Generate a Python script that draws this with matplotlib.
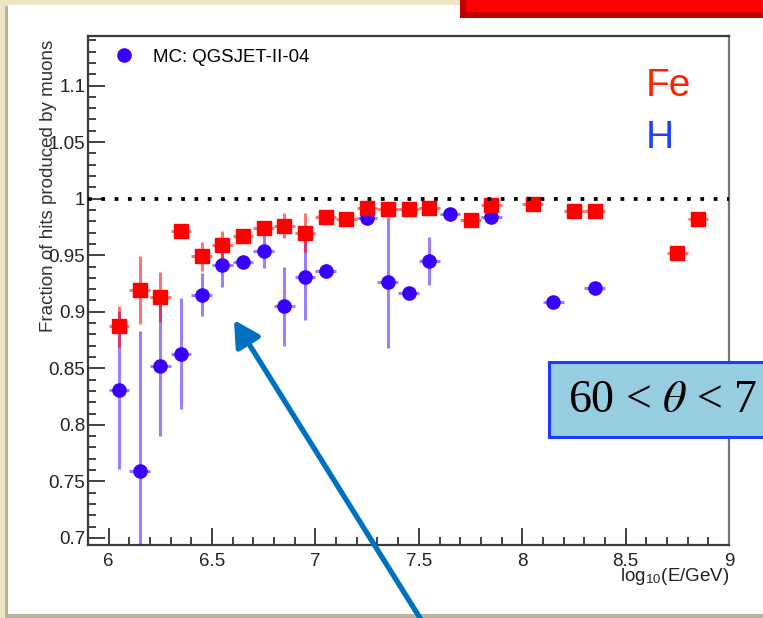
import matplotlib
matplotlib.use("Agg")
import matplotlib.pyplot as plt
import numpy as np
from matplotlib.lines import Line2D
from matplotlib.patches import Rectangle, FancyArrowPatch
from matplotlib.ticker import MultipleLocator, FuncFormatter

plt.rcParams['font.family'] = ['Liberation Sans', 'DejaVu Sans']
plt.rcParams['mathtext.fontset'] = 'stix'

# Bin centres, log10(E/GeV)
log_e = [6.05, 6.15, 6.25, 6.35, 6.45, 6.55, 6.65, 6.75, 6.85, 6.95,
         7.05, 7.15, 7.25, 7.35, 7.45, 7.55, 7.65, 7.75, 7.85, 7.95,
         8.05, 8.15, 8.25, 8.35, 8.45, 8.55, 8.65, 8.75, 8.85]
nan = np.nan

# Fe (red squares)
fe_frac = [0.887, 0.919, 0.913, 0.971, 0.949, 0.959, 0.967, 0.974, 0.976, 0.970,
           0.984, 0.982, 0.992, 0.991, 0.991, 0.992, nan, 0.981, 0.994, nan,
           0.995, nan, 0.989, 0.989, nan, nan, nan, 0.952, 0.982]
fe_err = [0.018, 0.030, 0.022, 0.003, 0.013, 0.012, 0.004, 0.006, 0.011, 0.017,
          0.003, 0.003, 0.004, 0.003, 0.003, 0.003, nan, 0.003, 0.004, nan,
          0.003, nan, 0.003, 0.003, nan, nan, nan, 0.003, 0.003]

# H (blue circles)
h_frac = [0.831, 0.759, 0.852, 0.863, 0.915, 0.941, 0.944, 0.954, 0.905, 0.931,
          0.936, nan, 0.983, 0.926, 0.917, 0.945, 0.986, nan, 0.984, nan,
          nan, 0.909, nan, 0.921, nan, nan, nan, nan, nan]
h_err = [0.070, 0.124, 0.062, 0.049, 0.019, 0.019, 0.004, 0.015, 0.035, 0.038,
         0.006, nan, 0.004, 0.058, 0.004, 0.021, 0.003, nan, 0.003, nan,
         nan, 0.003, nan, 0.003, nan, nan, nan, nan, nan]

bin_half = 0.05
red = '#ff0000'
blue = '#3a00ff'

W, H = 763, 618
fig = plt.figure(figsize=(W / 100, H / 100), dpi=100, facecolor='#efe4c4')


def px(x, y):
    # pixel position (origin top-left) -> figure fraction
    return x / W, 1 - y / H


# Slide panel with a light shadow
fig.add_artist(Rectangle(px(5, 618), 780 / W, 612 / H, transform=fig.transFigure,
                         facecolor='#b9b3a0', edgecolor='none', zorder=-3))
fig.add_artist(Rectangle(px(8, 614), 780 / W, 609 / H, transform=fig.transFigure,
                         facecolor='white', edgecolor='none', zorder=-2))

ax = fig.add_axes([88 / W, (H - 545) / H, 641 / W, 509 / H])

ax.errorbar(log_e, h_frac, yerr=h_err, xerr=bin_half, fmt='o', color=blue,
            ms=9.5, ecolor=(0.23, 0.0, 1.0, 0.5), elinewidth=2.2, capsize=0, zorder=3)
ax.errorbar(log_e, fe_frac, yerr=fe_err, xerr=bin_half, fmt='s', color=red,
            ms=9.5, ecolor=(1.0, 0.0, 0.0, 0.55), elinewidth=2.2, capsize=0, zorder=4)

ax.axhline(1.0, color='black', lw=2.7, ls=(0, (1, 2.55)), dash_capstyle='butt', zorder=5)

ax.set_xlim(5.9, 9.0)
ax.set_ylim(0.6938, 1.1438)

ax.xaxis.set_major_locator(MultipleLocator(0.5))
ax.xaxis.set_minor_locator(MultipleLocator(0.1))
ax.yaxis.set_major_locator(MultipleLocator(0.05))
ax.yaxis.set_minor_locator(MultipleLocator(0.01))
fmt = FuncFormatter(lambda v, p: '%g' % round(v, 3))
ax.xaxis.set_major_formatter(fmt)
ax.yaxis.set_major_formatter(fmt)

ax.tick_params(which='both', direction='in', top=False, right=False,
               colors='#333333', labelcolor='#222222', labelsize=13.5, width=1.3)
ax.tick_params(which='major', length=12)
ax.tick_params(which='minor', length=6)
ax.tick_params(axis='x', pad=6)
ax.tick_params(axis='y', pad=2)
for s in ax.spines.values():
    s.set_linewidth(1.6)
    s.set_color('#3a3a3a')
ax.spines['right'].set_color('#777777')

ax.set_ylabel('Fraction of hits produced by muons', fontsize=13.5, color='#333333', loc='top')
ax.yaxis.set_label_coords(-0.048, 0.992)
fig.text(729 / W, 1 - 566 / H, r'log$_\mathregular{10}$(E/GeV)', ha='right', va='top',
         fontsize=13.5, color='#222222')

ax.legend(handles=[Line2D([], [], marker='o', ls='none', color=blue, ms=9.5)],
          labels=['MC: QGSJET-II-04'], loc='upper left', frameon=False,
          fontsize=13.4, handlelength=1.0, handletextpad=1.06, borderpad=0,
          borderaxespad=0, bbox_to_anchor=(0.0417, 0.9745))

ax.text(0.87, 0.882, 'Fe', transform=ax.transAxes, color='#ff2200', fontsize=28,
        ha='left', va='baseline')
ax.text(0.87, 0.780, 'H', transform=ax.transAxes, color='#2040ff', fontsize=28,
        ha='left', va='baseline')

# Red title box of the slide (cut off)
fig.add_artist(Rectangle(px(463, 15), 320 / W, 30 / H, transform=fig.transFigure,
                         facecolor='#ff0000', edgecolor='#c00000', lw=4.3, zorder=6))

# Angle box (cut off at the right edge)
fig.add_artist(Rectangle(px(549, 437), 250 / W, 75 / H, transform=fig.transFigure,
                         facecolor='#96cde0', edgecolor='#1a3cff', lw=2.2, zorder=6))
fig.text(568 / W, 1 - 401 / H, r'60 < $\theta$ < 7', fontsize=33, family='Liberation Serif',
         color='black', ha='left', va='center', zorder=7)

# Pointer arrow
fig.add_artist(FancyArrowPatch(px(425, 626), px(234, 320), transform=fig.transFigure,
                               arrowstyle='-|>,head_length=0.55,head_width=0.3',
                               mutation_scale=28, color='#0070c0', lw=3.8,
                               shrinkA=0, shrinkB=0, zorder=8))

fig.savefig('out.png', dpi=100, facecolor=fig.get_facecolor())
